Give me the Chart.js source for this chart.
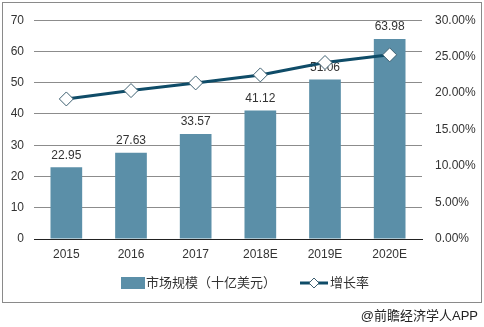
<!DOCTYPE html>
<html>
<head>
<meta charset="utf-8">
<script src="https://cdn.jsdelivr.net/npm/chart.js@4.4.0/dist/chart.umd.min.js"></script>
<style>
  html, body { margin: 0; padding: 0; background: #fff; }
  #wrap { width: 484px; height: 327px; position: relative; }
</style>
</head>
<body>
<div id="wrap"><canvas id="chart" width="484" height="327"></canvas></div>
<script>
var years = ["2015", "2016", "2017", "2018E", "2019E", "2020E"];
var marketSize = [22.95, 27.63, 33.57, 41.12, 51.06, 63.98];
var growthRate = [19.2, 20.35, 21.4, 22.5, 24.2, 25.25];
var sizeLabel = "市场规模（十亿美元）";
var rateLabel = "增长率";
var footerText = "@前瞻经济学人APP";

var FONT = '"Liberation Sans", Arial, "Noto Sans CJK SC", sans-serif';
var barColor = "#5b8fa8";
var lineColor = "#0f4c68";

// value labels above bars (under the line) + legend + frame + footer
var extras = {
    id: "extras",
    afterDatasetDraw: function (chart, args) {
        if (args.index !== 1) return;
        var ctx = chart.ctx;
        ctx.save();
        ctx.font = "12px " + FONT;
        ctx.fillStyle = "#333";
        ctx.textAlign = "center";
        ctx.textBaseline = "middle";
        args.meta.data.forEach(function (bar, i) {
            ctx.fillText(marketSize[i].toFixed(2), bar.x, bar.y - 12);
        });
        ctx.restore();
    },
    afterDraw: function (chart) {
        var ctx = chart.ctx;
        ctx.save();
        // frame
        ctx.strokeStyle = "#8a8a8a";
        ctx.lineWidth = 1;
        ctx.strokeRect(2.5, 2.5, 479, 300);

        // legend
        var ly = 283;
        ctx.fillStyle = barColor;
        ctx.fillRect(121, ly - 6, 24, 12);
        ctx.font = "13px " + FONT;
        ctx.fillStyle = "#333";
        ctx.textBaseline = "middle";
        ctx.textAlign = "left";
        ctx.fillText(sizeLabel, 146, ly);

        ctx.strokeStyle = lineColor;
        ctx.lineWidth = 3;
        ctx.beginPath();
        ctx.moveTo(300, ly);
        ctx.lineTo(328, ly);
        ctx.stroke();
        ctx.fillStyle = "#fff";
        ctx.strokeStyle = "#3d5f70";
        ctx.lineWidth = 1;
        ctx.beginPath();
        ctx.moveTo(314, ly - 5);
        ctx.lineTo(319, ly);
        ctx.lineTo(314, ly + 5);
        ctx.lineTo(309, ly);
        ctx.closePath();
        ctx.fill();
        ctx.stroke();
        ctx.fillStyle = "#333";
        ctx.fillText(rateLabel, 330, ly);

        // footer
        ctx.textAlign = "right";
        ctx.font = "13px " + FONT;
        ctx.fillStyle = "#222";
        ctx.fillText(footerText, 478, 316);
        ctx.restore();
    }
};

var ctx = document.getElementById("chart").getContext("2d");

new Chart(ctx, {
    type: "bar",
    data: {
        labels: years,
        datasets: [{
            type: "line",
            label: rateLabel,
            data: growthRate,
            yAxisID: "y1",
            borderColor: lineColor,
            borderWidth: 3,
            tension: 0,
            pointStyle: "rectRot",
            pointRadius: 7,
            pointBackgroundColor: "#fff",
            pointBorderColor: "#3d5f70",
            pointBorderWidth: 1,
            order: 0
        }, {
            label: sizeLabel,
            data: marketSize,
            yAxisID: "y",
            backgroundColor: barColor,
            categoryPercentage: 1,
            barPercentage: 0.49,
            order: 1
        }]
    },
    options: {
        responsive: false,
        animation: false,
        layout: {
            padding: { left: 2, right: 2, top: 17, bottom: 0 }
        },
        plugins: {
            legend: { display: false },
            tooltip: { enabled: false }
        },
        scales: {
            x: {
                grid: { display: false, drawTicks: false },
                border: { display: true, color: "#222", width: 1 },
                ticks: {
                    color: "#333",
                    padding: 8,
                    font: { size: 12, family: FONT }
                },
                afterFit: function (scale) { scale.height = 88; }
            },
            y: {
                position: "left",
                min: 0,
                max: 70,
                grid: { color: "#8c8c8c", drawTicks: false },
                border: { display: false },
                ticks: {
                    stepSize: 10,
                    color: "#333",
                    padding: 10,
                    font: { size: 12, family: FONT }
                },
                afterFit: function (scale) { scale.width = 32; }
            },
            y1: {
                position: "right",
                min: 0,
                max: 30,
                grid: { display: false, drawTicks: false },
                border: { display: false },
                ticks: {
                    stepSize: 5,
                    color: "#333",
                    padding: 13,
                    font: { size: 12, family: FONT },
                    callback: function (v) { return v.toFixed(2) + "%"; }
                },
                afterFit: function (scale) { scale.width = 60; }
            }
        }
    },
    plugins: [extras]
});
</script>
</body>
</html>
